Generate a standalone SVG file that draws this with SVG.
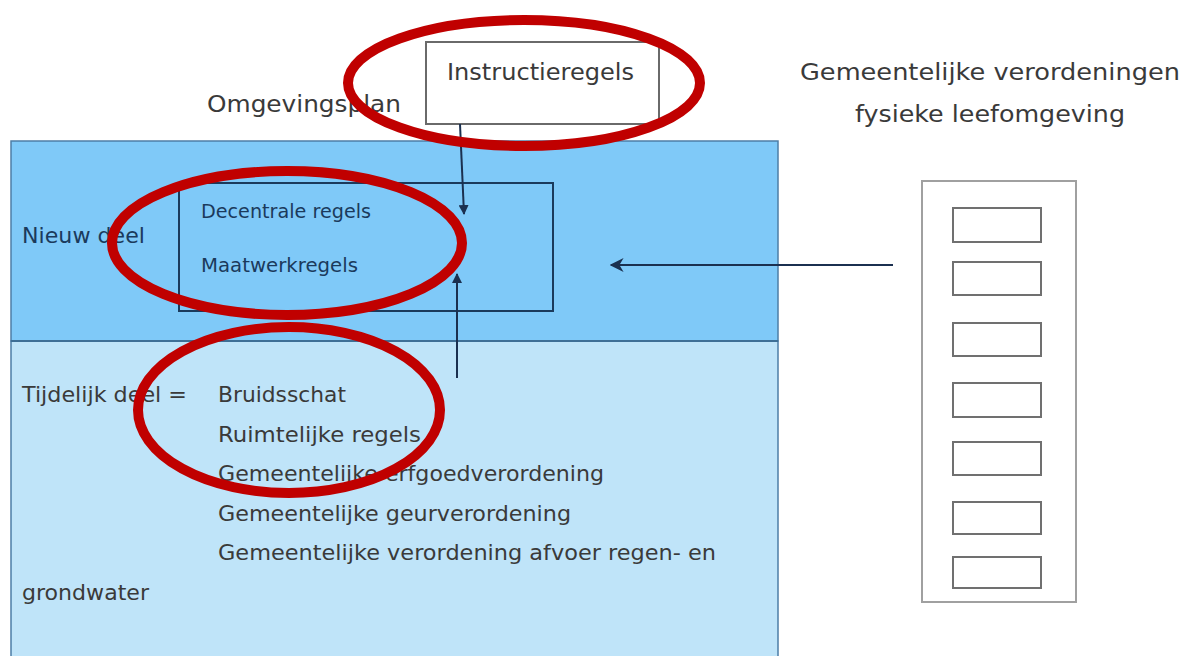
<svg xmlns="http://www.w3.org/2000/svg" width="1186" height="656" viewBox="0 0 1186 656">
<defs>
<style>
.t{font-family:"DejaVu Sans","Verdana",sans-serif;font-size:22px;fill:#3a3a3a}
.tl{font-family:"DejaVu Sans","Verdana",sans-serif;font-size:23.5px;fill:#3a3a3a}
.tb{font-family:"DejaVu Sans","Verdana",sans-serif;font-size:19px;fill:#1b3a5c}
.box{fill:#fff;stroke:#6a6a6a;stroke-width:2}
.small{fill:#fff;stroke:#707070;stroke-width:2}
.ring{fill:none;stroke:#c00000;stroke-width:10}
.con{stroke:#1b3050;stroke-width:2;fill:none}
</style>
<marker id="ah" viewBox="0 0 10 10" refX="9" refY="5" markerWidth="5" markerHeight="5" orient="auto-start-reverse" markerUnits="strokeWidth">
<path d="M0,0 L10,5 L0,10 z" fill="#1b3050"/>
</marker>
<marker id="ahw" viewBox="0 0 10 10" refX="9" refY="5" markerWidth="14" markerHeight="14" orient="auto" markerUnits="userSpaceOnUse">
<path d="M0,0 L10,5 L0,10 L3,5 z" fill="#1b3050"/>
</marker>
</defs>
<rect width="1186" height="656" fill="#fff"/>

<g id="omgevingsplan">
<rect x="11" y="141" width="767" height="200" fill="#7fc9f8" stroke="#4d7ea6" stroke-width="1.5"/>
<rect x="11" y="341" width="767" height="320" fill="#bfe4f9" stroke="#4d7ea6" stroke-width="1.5"/>
<line x1="11" y1="341" x2="778" y2="341" stroke="#3e6f96" stroke-width="2"/>
<text class="tl" x="207" y="112" textLength="194" lengthAdjust="spacingAndGlyphs">Omgevingsplan</text>
<text class="tb" x="22" y="243" textLength="123" lengthAdjust="spacingAndGlyphs" style="font-size:21px">Nieuw deel</text>
<text class="t" x="22" y="402" textLength="165" lengthAdjust="spacingAndGlyphs">Tijdelijk deel =</text>
<text class="t" x="218" y="402" textLength="128" lengthAdjust="spacingAndGlyphs">Bruidsschat</text>
<text class="t" x="218" y="442" textLength="203" lengthAdjust="spacingAndGlyphs">Ruimtelijke regels</text>
<text class="t" x="218" y="481" textLength="386" lengthAdjust="spacingAndGlyphs">Gemeentelijke erfgoedverordening</text>
<text class="t" x="218" y="521" textLength="353" lengthAdjust="spacingAndGlyphs">Gemeentelijke geurverordening</text>
<text class="t" x="218" y="560" textLength="498" lengthAdjust="spacingAndGlyphs">Gemeentelijke verordening afvoer regen- en</text>
<text class="t" x="22" y="600" textLength="127" lengthAdjust="spacingAndGlyphs">grondwater</text>
</g>

<g id="decentrale">
<rect x="179" y="183" width="374" height="128" fill="#7fc9f8" stroke="#1b3a5c" stroke-width="2"/>
<text class="tb" x="201" y="218" textLength="170" lengthAdjust="spacingAndGlyphs">Decentrale regels</text>
<text class="tb" x="201" y="272" textLength="157" lengthAdjust="spacingAndGlyphs">Maatwerkregels</text>
</g>

<g id="instructieregels">
<rect class="box" x="426" y="42" width="233" height="82"/>
<text class="tl" x="447" y="80" textLength="187" lengthAdjust="spacingAndGlyphs">Instructieregels</text>
</g>

<g id="verordeningen">
<text class="tl" x="800" y="80" textLength="380" lengthAdjust="spacingAndGlyphs">Gemeentelijke verordeningen</text>
<text class="tl" x="855" y="122" textLength="270" lengthAdjust="spacingAndGlyphs">fysieke leefomgeving</text>
<rect x="922" y="181" width="154" height="421" fill="#fff" stroke="#a0a0a0" stroke-width="2"/>
<rect class="small" x="953" y="208" width="88" height="34"/>
<rect class="small" x="953" y="262" width="88" height="33"/>
<rect class="small" x="953" y="323" width="88" height="33"/>
<rect class="small" x="953" y="383" width="88" height="34"/>
<rect class="small" x="953" y="442" width="88" height="33"/>
<rect class="small" x="953" y="502" width="88" height="32"/>
<rect class="small" x="953" y="557" width="88" height="31"/>
</g>

<g id="connectors">
<line class="con" x1="460" y1="124" x2="464" y2="214" marker-end="url(#ah)"/>
<line class="con" x1="457" y1="378" x2="457" y2="274" marker-end="url(#ah)"/>
<line class="con" x1="893" y1="265" x2="611" y2="265" stroke-width="3" marker-end="url(#ahw)"/>
</g>

<g id="highlights">
<ellipse class="ring" cx="524" cy="83" rx="176" ry="63"/>
<ellipse class="ring" cx="287" cy="243" rx="175" ry="72"/>
<ellipse class="ring" cx="289" cy="410" rx="151" ry="83"/>
</g>
</svg>
